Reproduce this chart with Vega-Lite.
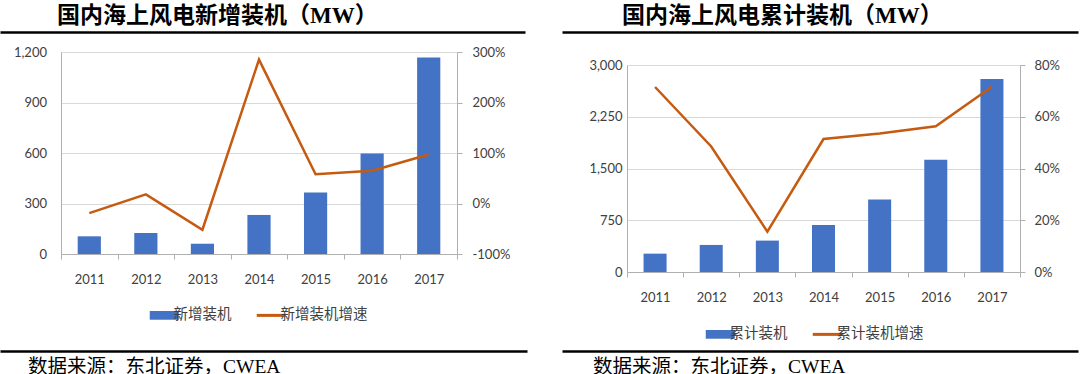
{
  "$schema": "https://vega.github.io/schema/vega-lite/v6.json",
  "padding": {"top": 5, "left": 0, "right": 0, "bottom": 0},
  "autosize": {"type": "pad"},
  "background": "white",
  "spacing": -26,
  "resolve": {"scale": {"color": "independent"}, "legend": {"color": "independent"}},
  "config": {
    "view": {"stroke": null},
    "axis": {"labelFont": "Lato", "labelFontSize": 13, "labelColor": "#404040", "domainColor": "#B0B0B0", "tickColor": "#B0B0B0", "gridColor": "#D9D9D9", "title": null}
  },
  "hconcat": [
    {
      "columns": 1,
      "spacing": 0,
      "resolve": {"scale": {"color": "independent"}, "legend": {"color": "independent"}},
      "concat": [
        {
          "width": 464, "height": 13.5,
          "data": {"values": [{"k": 0}]},
          "title": {"text": "国内海上风电新增装机（MW）", "anchor": "start", "frame": "group", "dx": -4, "offset": 4, "font": "Liberation Serif, Noto Sans CJK SC", "fontSize": 23, "fontWeight": "bold", "color": "#000000"},
          "mark": {"type": "text", "text": ""},
          "encoding": {"x": {"datum": 0, "type": "quantitative", "scale": {"domain": [0, 1], "range": [-61, 464]}, "axis": {"orient": "top", "domain": true, "domainColor": "#000000", "domainWidth": 2.5, "ticks": false, "labels": false, "grid": false, "minExtent": 0, "maxExtent": 0}}}
        },
        {
          "width": 396, "height": 202,
          "data": {"values": [
            {"year": "2011", "mw": 105, "growth": -0.19},
            {"year": "2012", "mw": 125, "growth": 0.18},
            {"year": "2013", "mw": 61, "growth": -0.52},
            {"year": "2014", "mw": 232, "growth": 2.85},
            {"year": "2015", "mw": 365, "growth": 0.58},
            {"year": "2016", "mw": 597, "growth": 0.65},
            {"year": "2017", "mw": 1168, "growth": 0.97}
          ]},
          "encoding": {"x": {"field": "year", "type": "ordinal", "scale": {"paddingInner": 0, "paddingOuter": 0}, "axis": {"labelAngle": 0, "tickSize": 5, "tickBand": "extent", "labelPadding": 14, "minExtent": 90.5, "maxExtent": 200, "grid": false}}},
          "layer": [
            {
              "mark": {"type": "bar", "width": {"band": 0.41}},
              "encoding": {
                "y": {"field": "mw", "type": "quantitative", "scale": {"domain": [0, 1200]}, "axis": {"orient": "left", "values": [0, 300, 600, 900, 1200], "format": ",d", "grid": true, "ticks": false, "labelPadding": 14.5, "minExtent": 61}},
                "color": {"datum": "新增装机", "type": "nominal", "scale": {"domain": ["新增装机", "新增装机增速"], "range": ["#4472C4", "#C55A11"]},
                  "legend": {"orient": "none", "legendX": 96, "legendY": 256, "direction": "horizontal", "title": null, "labelFont": "Noto Sans CJK SC", "labelFontSize": 14.5, "labelColor": "#404040", "labelOffset": 2, "columnPadding": 18, "symbolSize": 841,
                    "encode": {"symbols": {"update": {
                      "shape": {"signal": "datum.value === '新增装机' ? 'M-1,-0.3H1V0.3H-1Z' : 'M-1,0H1'"},
                      "fill": {"signal": "datum.value === '新增装机' ? '#4472C4' : 'transparent'"},
                      "stroke": {"signal": "datum.value === '新增装机' ? '#4472C4' : '#C55A11'"},
                      "strokeWidth": {"signal": "datum.value === '新增装机' ? 0 : 3"},
                      "opacity": {"value": 1}
                    }}}}}
              }
            },
            {
              "mark": {"type": "line", "strokeWidth": 2.5},
              "encoding": {
                "y": {"field": "growth", "type": "quantitative", "scale": {"domain": [-1, 3]}, "axis": {"orient": "right", "values": [-1, 0, 1, 2, 3], "format": ".0%", "labelExpr": "replace(datum.label, '−', '-')", "grid": false, "ticks": true, "tickSize": 5, "labelPadding": 10}},
                "color": {"datum": "新增装机增速", "type": "nominal"}
              }
            }
          ],
          "resolve": {"scale": {"y": "independent"}}
        },
        {
          "width": 466, "height": 1,
          "data": {"values": [{"k": 0}]},
          "title": {"text": "数据来源：东北证券，CWEA", "orient": "bottom", "anchor": "start", "frame": "group", "dx": -33, "offset": 1, "font": "Liberation Serif, Noto Sans CJK SC", "fontSize": 19.5, "fontWeight": "normal", "color": "#000000"},
          "mark": {"type": "text", "text": ""},
          "encoding": {"x": {"datum": 0, "type": "quantitative", "scale": {"domain": [0, 1], "range": [-61, 466]}, "axis": {"orient": "top", "domain": true, "domainColor": "#000000", "domainWidth": 2.5, "ticks": false, "labels": false, "grid": false, "minExtent": 0, "maxExtent": 0}}}
        }
      ]
    },
    {
      "columns": 1,
      "spacing": 0,
      "resolve": {"scale": {"color": "independent"}, "legend": {"color": "independent"}},
      "concat": [
        {
          "width": 451, "height": 27,
          "data": {"values": [{"k": 0}]},
          "title": {"text": "国内海上风电累计装机（MW）", "anchor": "start", "frame": "group", "dx": -5, "offset": 4, "font": "Liberation Serif, Noto Sans CJK SC", "fontSize": 23, "fontWeight": "bold", "color": "#000000"},
          "mark": {"type": "text", "text": ""},
          "encoding": {"x": {"datum": 0, "type": "quantitative", "scale": {"domain": [0, 1], "range": [-65, 451]}, "axis": {"orient": "top", "domain": true, "domainColor": "#000000", "domainWidth": 2.5, "ticks": false, "labels": false, "grid": false, "minExtent": 0, "maxExtent": 0}}}
        },
        {
          "width": 393, "height": 207,
          "data": {"values": [
            {"year": "2011", "mw": 266, "growth": 0.715},
            {"year": "2012", "mw": 392, "growth": 0.485},
            {"year": "2013", "mw": 455, "growth": 0.156},
            {"year": "2014", "mw": 682, "growth": 0.514},
            {"year": "2015", "mw": 1050, "growth": 0.535},
            {"year": "2016", "mw": 1626, "growth": 0.563},
            {"year": "2017", "mw": 2797, "growth": 0.716}
          ]},
          "encoding": {"x": {"field": "year", "type": "ordinal", "scale": {"paddingInner": 0, "paddingOuter": 0}, "axis": {"labelAngle": 0, "tickSize": 5, "tickBand": "extent", "labelPadding": 14, "minExtent": 72.2, "maxExtent": 200, "grid": false}}},
          "layer": [
            {
              "mark": {"type": "bar", "width": {"band": 0.41}},
              "encoding": {
                "y": {"field": "mw", "type": "quantitative", "scale": {"domain": [0, 3000]}, "axis": {"orient": "left", "values": [0, 750, 1500, 2250, 3000], "format": ",d", "grid": true, "ticks": false, "labelPadding": 5, "minExtent": 65}},
                "color": {"datum": "累计装机", "type": "nominal", "scale": {"domain": ["累计装机", "累计装机增速"], "range": ["#4472C4", "#C55A11"]},
                  "legend": {"orient": "none", "legendX": 86, "legendY": 262, "direction": "horizontal", "title": null, "labelFont": "Noto Sans CJK SC", "labelFontSize": 14.5, "labelColor": "#404040", "labelOffset": 2, "columnPadding": 18, "symbolSize": 841,
                    "encode": {"symbols": {"update": {
                      "shape": {"signal": "datum.value === '累计装机' ? 'M-1,-0.3H1V0.3H-1Z' : 'M-1,0H1'"},
                      "fill": {"signal": "datum.value === '累计装机' ? '#4472C4' : 'transparent'"},
                      "stroke": {"signal": "datum.value === '累计装机' ? '#4472C4' : '#C55A11'"},
                      "strokeWidth": {"signal": "datum.value === '累计装机' ? 0 : 3"},
                      "opacity": {"value": 1}
                    }}}}}
              }
            },
            {
              "mark": {"type": "line", "strokeWidth": 2.5},
              "encoding": {
                "y": {"field": "growth", "type": "quantitative", "scale": {"domain": [0, 0.8]}, "axis": {"orient": "right", "values": [0, 0.2, 0.4, 0.6, 0.8], "format": ".0%", "grid": false, "ticks": true, "tickSize": 5, "labelPadding": 9}},
                "color": {"datum": "累计装机增速", "type": "nominal"}
              }
            }
          ],
          "resolve": {"scale": {"y": "independent"}}
        },
        {
          "width": 451, "height": 1,
          "data": {"values": [{"k": 0}]},
          "title": {"text": "数据来源：东北证券，CWEA", "orient": "bottom", "anchor": "start", "frame": "group", "dx": -34, "offset": 1, "font": "Liberation Serif, Noto Sans CJK SC", "fontSize": 19.5, "fontWeight": "normal", "color": "#000000"},
          "mark": {"type": "text", "text": ""},
          "encoding": {"x": {"datum": 0, "type": "quantitative", "scale": {"domain": [0, 1], "range": [-65, 451]}, "axis": {"orient": "top", "domain": true, "domainColor": "#000000", "domainWidth": 2.5, "ticks": false, "labels": false, "grid": false, "minExtent": 0, "maxExtent": 0}}}
        }
      ]
    }
  ]
}
